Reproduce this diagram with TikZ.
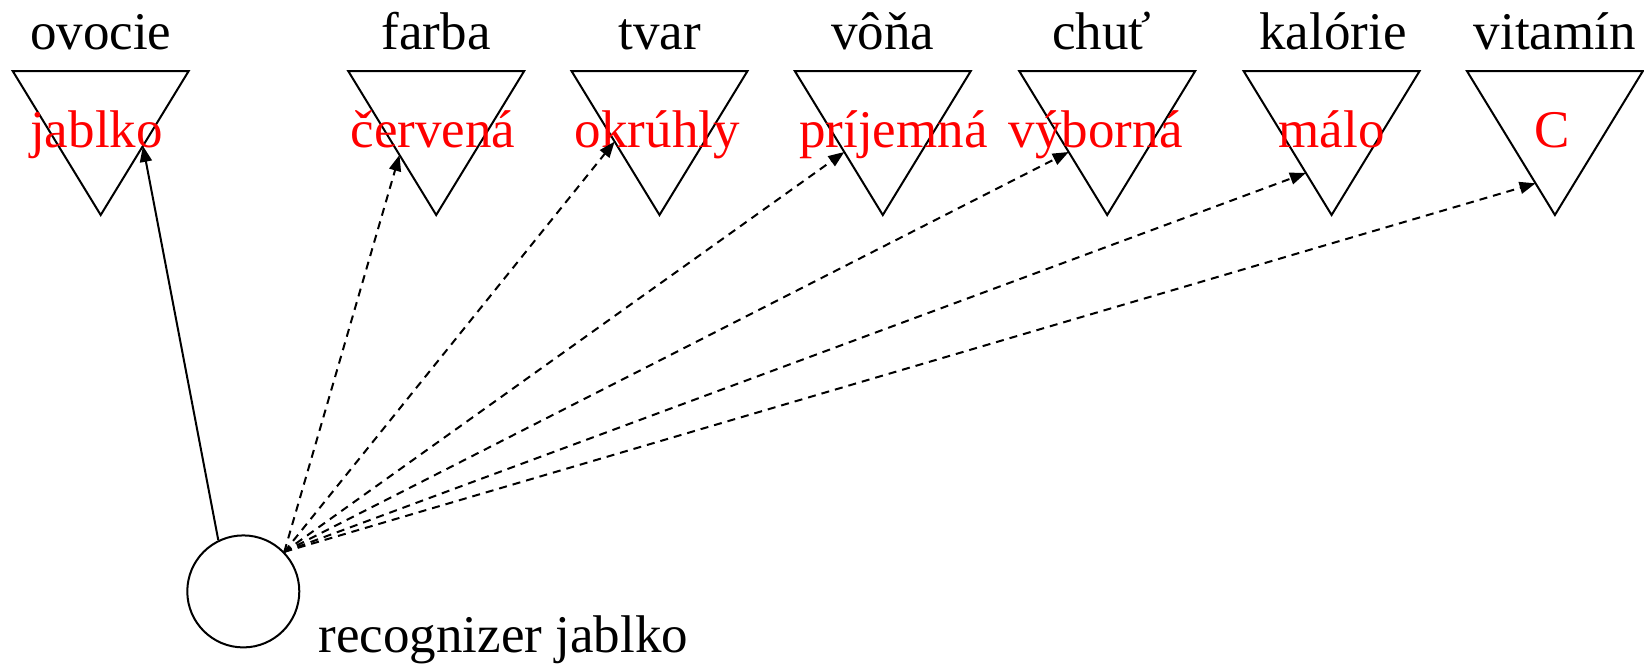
\documentclass[tikz,border=0pt]{standalone}
\usepackage{fontspec}
\setmainfont{Liberation Serif}
\usetikzlibrary{arrows.meta,calc}
\begin{document}
\begin{tikzpicture}[x=0.5pt,y=-0.5pt, line width=1pt,
  lbl/.style={font=\fontsize{26.5}{30}\selectfont, anchor=base, inner sep=0pt},
  val/.style={lbl, text=red},
  tri/.style={draw, line join=miter},
  conn/.style={-{Triangle[length=8pt,width=6pt]}},
  dconn/.style={conn, dash pattern=on 4pt off 3pt}]
\useasboundingbox (0,0) rectangle (1644,670);
% triangles
\foreach \i/\cx in {1/100.7,2/436.2,3/659.5,4/882.8,5/1107.2,6/1331.6,7/1554.9}{
  \coordinate (t\i L) at (\cx-88,71);
  \coordinate (t\i R) at (\cx+88,71);
  \coordinate (t\i B) at (\cx,215);
  \draw[tri] (t\i L) -- (t\i R) -- (t\i B) -- cycle;
}
% headings
\node[lbl] (h1) at (100.7,49) {ovocie};
\node[lbl] (h2) at (436.2,49) {farba};
\node[lbl] (h3) at (659.5,49) {tvar};
\node[lbl] (h4) at (882.8,49) {vôňa};
\node[lbl] (h5) at (1102,49) {chuť};
\node[lbl] (h6) at (1333,49) {kalórie};
\node[lbl] (h7) at (1554.9,49) {vitamín};
% values
\node[val] (v1) at (96.5,147) {jablko};
\node[val] (v2) at (433,147) {červená};
\node[val] (v3) at (657.4,147) {okrúhly};
\node[val] (v4) at (893.3,147) {príjemná};
\node[val] (v5) at (1095.7,147) {výborná};
\node[val] (v6) at (1331.6,147) {málo};
\node[val] (v7) at (1551.8,147) {C};
% recognizer
\node[draw, circle, minimum size=56pt, inner sep=0pt] (rec) at (243.3,591.4) {};
\node[lbl, anchor=base west] (recl) at (317.7,652) {recognizer jablko};
% arrow end points
\coordinate (e1) at ($(t1R)!0.52!(t1B)$);
\coordinate (e2) at ($(t2L)!0.583!(t2B)$);
\coordinate (e3) at ($(t3L)!0.49!(t3B)$);
\coordinate (e4) at ($(t4L)!0.5625!(t4B)$);
\coordinate (e5) at ($(t5L)!0.5625!(t5B)$);
\coordinate (e6) at ($(t6L)!0.708!(t6B)$);
\coordinate (e7) at ($(t7L)!0.78!(t7B)$);
\draw[conn] (rec.116) -- (e1);
\foreach \j in {2,...,7}{
  \draw[dconn] (rec.44) -- (e\j);
}
\end{tikzpicture}
\end{document}
